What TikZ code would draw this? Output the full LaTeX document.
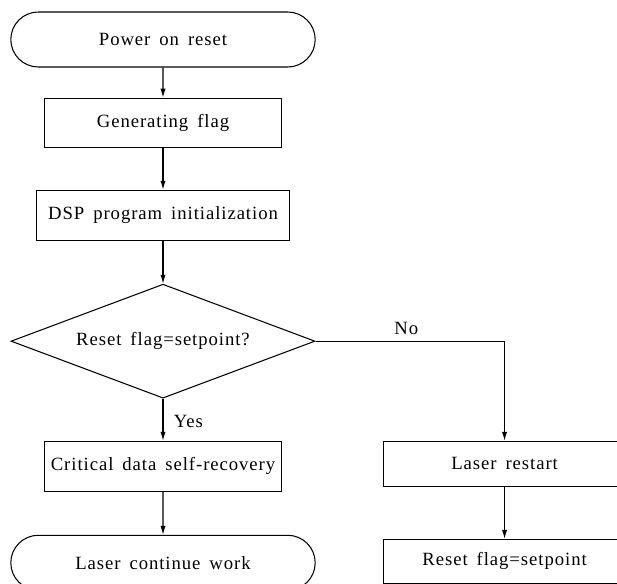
\documentclass[tikz,border=0pt]{standalone}
\usepackage{fontspec}
\setmainfont{Liberation Serif}[LetterSpace=5,WordSpace=1.6]
\usepackage{tikz}
\usetikzlibrary{arrows.meta,positioning,shapes.geometric,shapes.misc}

\begin{document}
\begin{tikzpicture}[
  node distance=1.1cm,
  every node/.style={font=\fontsize{13.3}{16}\selectfont},
  box/.style={draw, line width=0.75pt, align=center, inner sep=2pt},
  proc/.style={box, minimum width=5.925cm, minimum height=1.25cm},
  term/.style={box, rounded rectangle, minimum width=7.75cm, minimum height=1.375cm},
  dec/.style={box, diamond, aspect=2.67, minimum width=7.6cm, minimum height=2.85cm, inner sep=0pt},
  side/.style={box, minimum width=6.05cm, minimum height=1.125cm},
  arr/.style={-{Latex[length=2.2mm,width=1.3mm]}, line width=0.75pt}
]
\useasboundingbox (0,0) rectangle (15.425,-14.575);

\node[term] (power) at (4.075,-0.9875) {Power on reset};
\node[proc, minimum height=1.225cm, below=0.75cm of power] (genflag) {Generating flag};
\node[proc, minimum width=6.325cm, below=1.05cm of genflag] (dspinit) {DSP program initialization};
\node[dec, below=1.075cm of dspinit] (check) {Reset flag=setpoint?};
\node[proc, below=1.05cm of check] (recover) {Critical data self-recovery};
\node[term, below=1.075cm of recover] (contwork) {Laser continue work};
\node[side, anchor=north west] (restart) at ([xshift=2.525cm]recover.north east) {Laser restart};
\node[side, minimum height=1.1cm, below=1.3cm of restart] (setflag) {Reset flag=setpoint};

\draw[arr] (power) -- (genflag);
\draw[arr] (genflag) -- (dspinit);
\draw[arr] (dspinit) -- (check);
\draw[arr] (check) -- node[right=4pt, pos=0.55] {Yes} (recover);
\draw[arr] (recover) -- (contwork);
\draw[arr] (check.east) -- node[above=1pt, pos=0.48] {No} (check.east -| restart) -- (restart);
\draw[arr] (restart) -- (setflag);
\end{tikzpicture}
\end{document}
